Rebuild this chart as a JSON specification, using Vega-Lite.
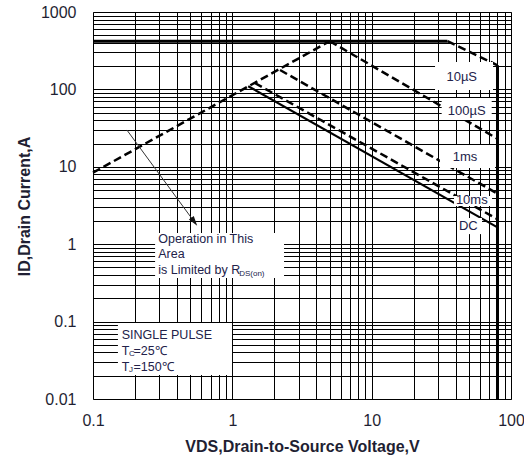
{
  "$schema": "https://vega.github.io/schema/vega-lite/v6.json",
  "width": 418,
  "height": 387,
  "autosize": {"type": "none"},
  "padding": {"left": 93, "top": 12, "right": 13, "bottom": 63},
  "background": "white",
  "config": {"view": {"stroke": "#777", "strokeWidth": 1}, "font": "Liberation Sans"},
  "datasets": {
    "curves": [
      {"curve": "limit", "V": 0.1, "I": 420}, {"curve": "limit", "V": 35, "I": 420},
      {"curve": "vmax", "V": 80, "I": 205}, {"curve": "vmax", "V": 80, "I": 0.01},
      {"curve": "rds", "V": 0.1, "I": 8.4}, {"curve": "rds", "V": 5, "I": 420},
      {"curve": "10us", "V": 35, "I": 420}, {"curve": "10us", "V": 80, "I": 205},
      {"curve": "100us", "V": 5, "I": 420}, {"curve": "100us", "V": 80, "I": 23},
      {"curve": "1ms", "V": 2.2, "I": 178}, {"curve": "1ms", "V": 80, "I": 4.5},
      {"curve": "10ms", "V": 1.45, "I": 121}, {"curve": "10ms", "V": 80, "I": 2.1},
      {"curve": "dc", "V": 1.3, "I": 110}, {"curve": "dc", "V": 80, "I": 1.65}
    ],
    "boxes": [
      {"box": "10us", "V": 28.5, "V2": 74.3, "I": 226, "I2": 98.3},
      {"box": "100us", "V": 31.8, "V2": 72.7, "I": 77.4, "I2": 40.3},
      {"box": "1ms", "V": 30.9, "V2": 76.8, "I": 19.1, "I2": 9.65},
      {"box": "10ms", "V": 39.0, "V2": 73.1, "I": 4.19, "I2": 3.12},
      {"box": "dc", "V": 41.0, "V2": 61.9, "I": 2.18, "I2": 1.35},
      {"box": "rds", "V": 0.279, "V2": 2.35, "I": 1.40, "I2": 0.366},
      {"box": "pulse", "V": 0.151, "V2": 0.995, "I": 0.096, "I2": 0.0204}
    ],
    "curvelabels": [
      {"t": "10µS", "V": 44.3, "I": 146},
      {"t": "100µS", "V": 48.1, "I": 52.6},
      {"t": "1ms", "V": 46.8, "I": 13.3},
      {"t": "10ms", "V": 52.3, "I": 3.72},
      {"t": "DC", "V": 49.4, "I": 1.72}
    ],
    "notes": [
      {"t": "Operation in This", "V": 0.294, "I": 1.17, "role": "main"},
      {"t": "Area", "V": 0.294, "I": 0.745, "role": "main"},
      {"t": "is Limited by R", "V": 0.294, "I": 0.464, "role": "main"},
      {"t": "DS(on)", "V": 1.12, "I": 0.412, "role": "sub"},
      {"t": "SINGLE PULSE", "V": 0.1607, "I": 0.0671, "role": "main"},
      {"t": "T", "V": 0.1607, "I": 0.0417, "role": "main"},
      {"t": "C", "V": 0.1813, "I": 0.0381, "role": "sub"},
      {"t": "=25℃", "V": 0.1953, "I": 0.0417, "role": "main"},
      {"t": "T", "V": 0.1607, "I": 0.0261, "role": "main"},
      {"t": "J", "V": 0.1813, "I": 0.0237, "role": "sub"},
      {"t": "=150℃", "V": 0.1953, "I": 0.0261, "role": "main"}
    ],
    "arrow": [
      {"V": 0.175, "I": 29.9}, {"V": 0.533, "I": 1.95}
    ],
    "arrowhead": [
      {"V": 0.533, "I": 1.95}
    ]
  },
  "encoding": {
    "x": {
      "field": "V", "type": "quantitative",
      "scale": {"type": "log", "domain": [0.1, 100], "nice": false},
      "axis": {
        "values": [0.1, 0.2, 0.3, 0.4, 0.5, 0.6, 0.7, 0.8, 0.9, 1, 2, 3, 4, 5, 6, 7, 8, 9, 10, 20, 30, 40, 50, 60, 70, 80, 90, 100],
        "format": "~g",
        "labelExpr": "indexof([0.1, 1, 10, 100], datum.value) >= 0 ? datum.label : ''",
        "grid": true, "gridColor": "#000", "gridWidth": 1, "gridOpacity": 1,
        "ticks": false, "domain": false,
        "labelFontSize": 16, "labelColor": "#1f1f33", "labelPadding": 13,
        "labelFlush": false, "labelOverlap": false,
        "title": "VDS,Drain-to-Source Voltage,V",
        "titleFontSize": 16, "titleFontWeight": "bold", "titleColor": "#1f1f33",
        "titleY": 52, "titleBaseline": "alphabetic"
      }
    },
    "y": {
      "field": "I", "type": "quantitative",
      "scale": {"type": "log", "domain": [0.01, 1000], "nice": false},
      "axis": {
        "values": [0.01, 0.02, 0.03, 0.04, 0.05, 0.06, 0.07, 0.08, 0.09, 0.1, 0.2, 0.3, 0.4, 0.5, 0.6, 0.7, 0.8, 0.9, 1, 2, 3, 4, 5, 6, 7, 8, 9, 10, 20, 30, 40, 50, 60, 70, 80, 90, 100, 200, 300, 400, 500, 600, 700, 800, 900, 1000],
        "format": "~g",
        "labelExpr": "indexof([0.01, 0.1, 1, 10, 100, 1000], datum.value) >= 0 ? datum.label : ''",
        "grid": true, "gridColor": "#000", "gridWidth": 1, "gridOpacity": 1,
        "ticks": false, "domain": false,
        "labelFontSize": 16, "labelColor": "#1f1f33", "labelPadding": 17,
        "labelFlush": false, "labelOverlap": false,
        "title": "ID,Drain Current,A",
        "titleFontSize": 16, "titleFontWeight": "bold", "titleColor": "#1f1f33",
        "titleAngle": -90, "titleX": -69, "titleY": 194,
        "titleBaseline": "middle", "titleAlign": "center"
      }
    }
  },
  "layer": [
    {
      "data": {"name": "curves"},
      "transform": [{"filter": "datum.curve == 'limit' || datum.curve == 'vmax'"}],
      "mark": {"type": "line", "color": "#000", "strokeWidth": 3, "strokeCap": "butt"},
      "encoding": {"detail": {"field": "curve"}}
    },
    {
      "data": {"name": "curves"},
      "transform": [{"filter": "datum.curve != 'limit' && datum.curve != 'vmax' && datum.curve != 'dc'"}],
      "mark": {"type": "line", "color": "#000", "strokeWidth": 2.5, "strokeDash": [8, 4], "strokeCap": "butt"},
      "encoding": {"detail": {"field": "curve"}}
    },
    {
      "data": {"name": "curves"},
      "transform": [{"filter": "datum.curve == 'dc'"}],
      "mark": {"type": "line", "color": "#000", "strokeWidth": 2.2},
      "encoding": {"detail": {"field": "curve"}}
    },
    {
      "data": {"name": "boxes"},
      "mark": {"type": "rect", "fill": "white", "stroke": null},
      "encoding": {
        "x2": {"field": "V2"},
        "y2": {"field": "I2"}
      }
    },
    {
      "data": {"name": "curvelabels"},
      "mark": {"type": "text", "fontSize": 13, "color": "#22224a", "align": "center", "baseline": "middle"},
      "encoding": {"text": {"field": "t"}}
    },
    {
      "data": {"name": "notes"},
      "transform": [{"filter": "datum.role == 'main'"}],
      "mark": {"type": "text", "fontSize": 12.5, "color": "#22224a", "align": "left", "baseline": "middle"},
      "encoding": {"text": {"field": "t"}}
    },
    {
      "data": {"name": "notes"},
      "transform": [{"filter": "datum.role == 'sub'"}],
      "mark": {"type": "text", "fontSize": 8, "color": "#22224a", "align": "left", "baseline": "middle"},
      "encoding": {"text": {"field": "t"}}
    },
    {
      "data": {"name": "arrow"},
      "mark": {"type": "line", "color": "#333", "strokeWidth": 1},
      "encoding": {}
    },
    {
      "data": {"name": "arrowhead"},
      "mark": {"type": "point", "shape": "M0,-1L0.6,1L-0.6,1Z", "filled": true, "color": "#111", "size": 100, "angle": 144, "opacity": 1},
      "encoding": {}
    }
  ]
}
